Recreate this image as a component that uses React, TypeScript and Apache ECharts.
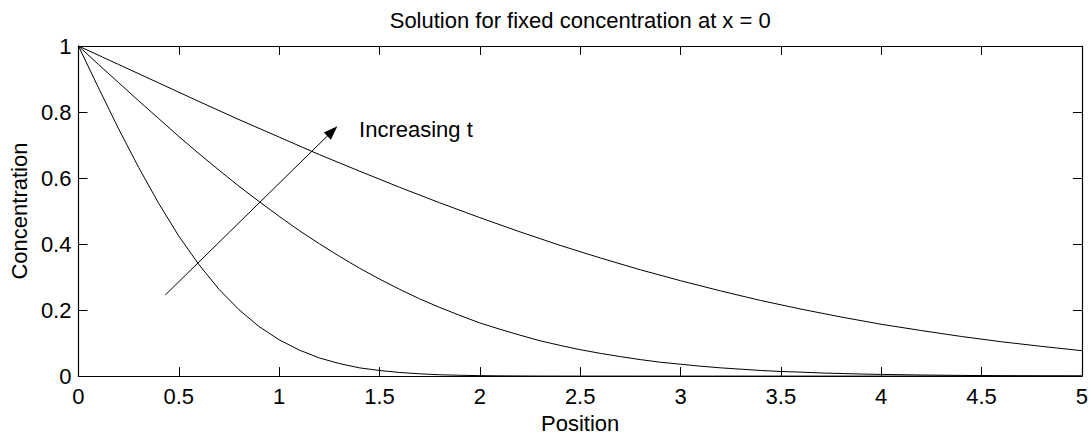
import React, { useEffect, useRef } from "react";
import * as echarts from "echarts";

// Position (x) samples and concentrations
const positions1 = [0, 0.1, 0.2, 0.3, 0.4, 0.5, 0.6, 0.7, 0.8, 0.9, 1.0, 1.1, 1.2, 1.3, 1.4, 1.5, 1.6, 1.7, 1.8, 1.9, 2.0, 2.1, 2.2, 2.3, 2.4, 3, 4, 5];
const conc1 = [1, 0.873, 0.749, 0.632, 0.523, 0.424, 0.338, 0.263, 0.201, 0.15, 0.11, 0.079, 0.055, 0.038, 0.025, 0.017, 0.011, 0.007, 0.004, 0.0025, 0.0014, 0.0008, 0.0004, 0.0002, 0.0001, 0, 0, 0];

const positions2 = [0, 0.1, 0.2, 0.3, 0.4, 0.5, 0.6, 0.7, 0.8, 0.9, 1.0, 1.1, 1.2, 1.3, 1.4, 1.5, 1.6, 1.7, 1.8, 1.9, 2.0, 2.1, 2.2, 2.3, 2.4, 2.5, 2.6, 2.7, 2.8, 2.9, 3.0, 3.1, 3.2, 3.3, 3.4, 3.5, 3.6, 3.7, 3.8, 3.9, 4.0, 4.2, 4.4, 4.6, 4.8, 5.0];
const conc2 = [1, 0.944, 0.889, 0.834, 0.78, 0.726, 0.674, 0.624, 0.575, 0.529, 0.484, 0.441, 0.401, 0.363, 0.327, 0.294, 0.263, 0.234, 0.208, 0.184, 0.161, 0.142, 0.124, 0.107, 0.093, 0.08, 0.069, 0.059, 0.05, 0.042, 0.036, 0.03, 0.025, 0.021, 0.017, 0.014, 0.012, 0.0095, 0.0078, 0.0063, 0.0051, 0.0033, 0.0021, 0.0013, 0.0008, 0.0005];

const positions3 = [0, 0.2, 0.4, 0.6, 0.8, 1.0, 1.2, 1.4, 1.6, 1.8, 2.0, 2.2, 2.4, 2.6, 2.8, 3.0, 3.2, 3.4, 3.6, 3.8, 4.0, 4.2, 4.4, 4.6, 4.8, 5.0];
const conc3 = [1, 0.944, 0.888, 0.832, 0.777, 0.724, 0.671, 0.621, 0.572, 0.525, 0.48, 0.437, 0.396, 0.358, 0.322, 0.289, 0.258, 0.229, 0.203, 0.179, 0.157, 0.138, 0.12, 0.104, 0.09, 0.077];

// Annotation (data coordinates)
const arrowStart = [0.433, 0.246];
const arrowEnd = [1.265, 0.742];
const annotationPos = [1.398, 0.748];
const annotationText = "Increasing t";

const titleText = "Solution for fixed concentration at x = 0";
const xName = "Position";
const yName = "Concentration";

const FONT = "'Liberation Sans', Arial, Helvetica, sans-serif";
const FS = 22;

function toPairs(xs: number[], ys: number[]) {
  return xs.map((x, i) => [x, ys[i]]);
}

export default function App() {
  const ref = useRef<HTMLDivElement>(null);
  useEffect(() => {
    document.body.style.margin = "0";
    const chart = echarts.init(ref.current!, null, { renderer: "svg" });
    const axisCommon = {
      axisLine: { show: true, onZero: false, lineStyle: { color: "#000", width: 1.2 } },
      axisTick: { show: true, inside: true, length: 9, lineStyle: { color: "#000", width: 1 } },
      splitLine: { show: false },
    };
    const lineSeries = (data: number[][], extra: any = {}) => ({
      type: "line",
      data,
      showSymbol: false,
      symbol: "none",
      smooth: false,
      lineStyle: { color: "#000", width: 1 },
      silent: true,
      ...extra,
    });
    chart.setOption({
      animation: false,
      backgroundColor: "#fff",
      textStyle: { fontFamily: FONT },
      grid: { left: 75, right: 4, top: 46, bottom: 56, containLabel: false },
      xAxis: [
        {
          type: "value",
          min: 0,
          max: 5,
          interval: 0.5,
          position: "bottom",
          name: xName,
          nameLocation: "middle",
          nameGap: 34,
          nameTextStyle: { color: "#000", fontSize: FS, fontFamily: FONT },
          axisLabel: { color: "#000", fontSize: FS, fontFamily: FONT, margin: 9 },
          ...axisCommon,
        },
        {
          type: "value",
          min: 0,
          max: 5,
          interval: 0.5,
          position: "top",
          axisLabel: { show: false },
          ...axisCommon,
        },
      ],
      yAxis: [
        {
          type: "value",
          min: 0,
          max: 1,
          interval: 0.2,
          position: "left",
          name: yName,
          nameLocation: "middle",
          nameGap: 46,
          nameTextStyle: { color: "#000", fontSize: FS, fontFamily: FONT },
          axisLabel: { color: "#000", fontSize: FS, fontFamily: FONT, margin: 7 },
          ...axisCommon,
        },
        {
          type: "value",
          min: 0,
          max: 1,
          interval: 0.2,
          position: "right",
          axisLabel: { show: false },
          ...axisCommon,
        },
      ],
      series: [
        lineSeries(toPairs(positions1, conc1), {
          markLine: {
            silent: true,
            symbol: ["none", "triangle"],
            symbolSize: [10, 14],
            label: { show: false },
            lineStyle: { color: "#000", width: 1, type: "solid" },
            data: [[{ coord: arrowStart }, { coord: arrowEnd }]],
          },
        }),
        lineSeries(toPairs(positions2, conc2)),
        lineSeries(toPairs(positions3, conc3)),
      ],
    });
    const [tx, ty] = chart.convertToPixel({ seriesIndex: 0 }, annotationPos) as number[];
    const [cx] = chart.convertToPixel({ seriesIndex: 0 }, [2.5, 1]) as number[];
    chart.setOption({
      graphic: [
        {
          type: "text",
          x: cx,
          y: 20,
          style: {
            text: titleText,
            fill: "#000",
            font: `${FS}px ${FONT}`,
            textAlign: "center",
            textVerticalAlign: "middle",
          },
        },
        {
          type: "text",
          x: tx,
          y: ty,
          style: {
            text: annotationText,
            fill: "#000",
            font: `${FS}px ${FONT}`,
            textAlign: "left",
            textVerticalAlign: "middle",
          },
        },
      ],
    });
    return () => chart.dispose();
  }, []);
  return <div ref={ref} style={{ width: 1091, height: 439 }} />;
}
